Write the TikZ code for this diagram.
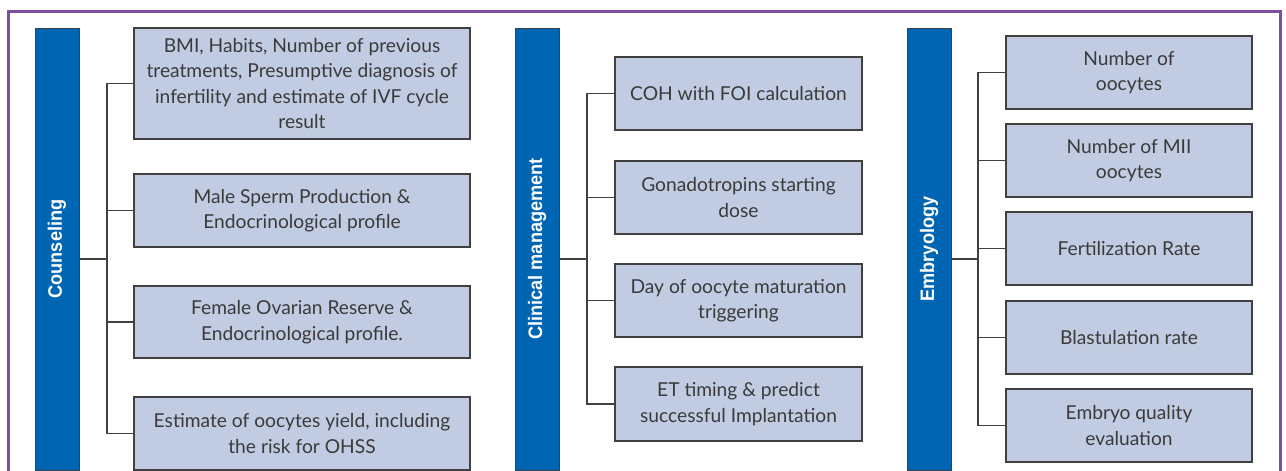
\documentclass[tikz,border=0pt]{standalone}
\usepackage{fontspec}
\setmainfont{Lato}
\newfontfamily\barfont{Liberation Sans}
\definecolor{frame}{HTML}{7E4FA0}
\definecolor{barblue}{HTML}{0066B3}
\definecolor{boxfill}{HTML}{C1CCE3}
\definecolor{boxline}{HTML}{404040}
\definecolor{txt}{HTML}{3A3A3A}
\tikzset{
  item/.style={draw=boxline, fill=boxfill, line width=1.4pt, inner sep=0pt,
    align=center, text=txt, font=\fontsize{19.2}{25.5}\selectfont},
  col1/.style={item, minimum width=336pt},
  col2/.style={item, minimum width=247pt},
  col3/.style={item, minimum width=246pt},
  bar/.style={draw=boxline, fill=barblue, line width=0.9pt, minimum width=44pt,
    minimum height=442pt, inner sep=0pt},
  barlabel/.style={rotate=90, text=white, inner sep=0pt,
    font=\barfont\bfseries\fontsize{19.5}{22}\selectfont},
  link/.style={draw=boxline, line width=1.2pt},
}
\newcommand{\nar}[1]{\scalebox{0.93}[1]{#1}}
\begin{document}
\begin{tikzpicture}[x=1pt,y=-1pt]
\useasboundingbox (0,0) rectangle (1286,471);
% frame
\draw[frame, line width=3pt] (8,480) -- (8,11) -- (1280,11) -- (1280,480);

% bars
\node[bar] (b1) at (57,249) {};
\node[bar] (b2) at (537,249) {};
\node[bar] (b3) at (929,249) {};
\node[barlabel] (l1) at (b1.center) {\nar{Counseling}};
\node[barlabel] (l2) at (b2.center) {\nar{Clinical management}};
\node[barlabel] (l3) at (b3.center) {\nar{Embryology}};

% column 1
\node[col1, minimum height=111pt] (c11) at (302,83.5) {BMI, Habits, Number of previous\\treatments, Presumptive diagnosis of\\infertility and estimate of IVF cycle\\result};
\node[col1, minimum height=73pt] (c12) at (302,210.5) {Male Sperm Production \&\\Endocrinological profile};
\node[col1, minimum height=72pt] (c13) at (302,322) {Female Ovarian Reserve \&\\Endocrinological profile.};
\node[col1, minimum height=73pt] (c14) at (302,433.5) {Estimate of oocytes yield, including\\the risk for OHSS};

% column 2
\node[col2, minimum height=73pt] (c21) at (738.5,93.5) {COH with FOI calculation};
\node[col2, minimum height=73pt] (c22) at (738.5,197.5) {Gonadotropins starting\\dose};
\node[col2, minimum height=73pt] (c23) at (738.5,300.5) {Day of oocyte maturation\\triggering};
\node[col2, minimum height=74pt] (c24) at (738.5,404) {ET timing \& predict\\successful Implantation};

% column 3
\node[col3, minimum height=73pt] (c31) at (1129,72.5) {Number of\\oocytes};
\node[col3, minimum height=73pt] (c32) at (1129,160.5) {Number of MII\\oocytes};
\node[col3, minimum height=73pt] (c33) at (1129,248.5) {Fertilization Rate};
\node[col3, minimum height=73pt] (c34) at (1129,337.5) {Blastulation rate};
\node[col3, minimum height=73pt] (c35) at (1129,425.5) {Embryo quality\\evaluation};

% trunk points
\coordinate (t1) at (107,259);
\coordinate (t2) at (587,259);
\coordinate (t3) at (978,259);

% connectors
\draw[link] (b1.east |- t1) -- (t1);
\foreach \c in {c11,c12,c13,c14} \draw[link] (\c.west) -| (t1);
\draw[link] (b2.east |- t2) -- (t2);
\foreach \c in {c21,c22,c23,c24} \draw[link] (\c.west) -| (t2);
\draw[link] (b3.east |- t3) -- (t3);
\foreach \c in {c31,c32,c33,c34,c35} \draw[link] (\c.west) -| (t3);
\end{tikzpicture}
\end{document}
